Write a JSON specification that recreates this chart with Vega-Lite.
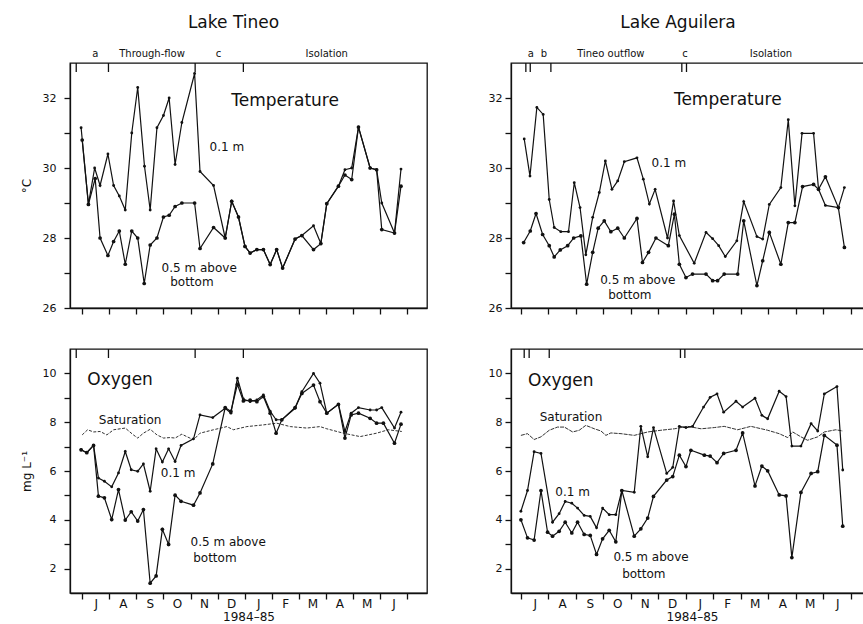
{
"$schema":"https://vega.github.io/schema/vega-lite/v6.json",
"padding":{"left":19,"top":12,"right":0,"bottom":0},
"background":"white",
"columns":2,
"spacing":{"row":32,"column":59},
"config":{
 "view":{"stroke":"#111","strokeWidth":1.3},
 "axis":{"domainColor":"#111","domainWidth":1.3,"tickColor":"#111","tickWidth":1.3,"labelColor":"#111","titleColor":"#111","labelFont":"DejaVu Sans","titleFont":"DejaVu Sans","labelFontSize":11,"titleFontSize":12,"titleFontWeight":"normal","grid":false,"labelFlush":false},
 "text":{"font":"DejaVu Sans","color":"#111"},
 "title":{"font":"DejaVu Sans","fontSize":17,"fontWeight":"normal","color":"#111"}
},
"datasets":{
"tt":[
{"m":-0.04,"v":31.15,"s":"0.1 m"},{"m":0.23,"v":28.96,"s":"0.1 m"},{"m":0.46,"v":30.0,"s":"0.1 m"},{"m":0.66,"v":29.5,"s":"0.1 m"},{"m":0.95,"v":30.4,"s":"0.1 m"},{"m":1.16,"v":29.5,"s":"0.1 m"},{"m":1.37,"v":29.2,"s":"0.1 m"},{"m":1.59,"v":28.8,"s":"0.1 m"},{"m":1.83,"v":31.0,"s":"0.1 m"},{"m":2.05,"v":32.3,"s":"0.1 m"},{"m":2.30,"v":30.05,"s":"0.1 m"},{"m":2.51,"v":28.8,"s":"0.1 m"},{"m":2.76,"v":31.15,"s":"0.1 m"},{"m":3.00,"v":31.5,"s":"0.1 m"},{"m":3.21,"v":32.0,"s":"0.1 m"},{"m":3.43,"v":30.1,"s":"0.1 m"},{"m":3.68,"v":31.3,"s":"0.1 m"},{"m":4.15,"v":32.7,"s":"0.1 m"},{"m":4.35,"v":29.9,"s":"0.1 m"},{"m":4.85,"v":29.5,"s":"0.1 m"},{"m":5.28,"v":28.0,"s":"0.1 m"},{"m":5.52,"v":29.05,"s":"0.1 m"},{"m":5.77,"v":28.6,"s":"0.1 m"},{"m":6.01,"v":27.76,"s":"0.1 m"},{"m":6.20,"v":27.57,"s":"0.1 m"},{"m":6.45,"v":27.67,"s":"0.1 m"},{"m":6.69,"v":27.67,"s":"0.1 m"},{"m":6.94,"v":27.24,"s":"0.1 m"},{"m":7.18,"v":27.67,"s":"0.1 m"},{"m":7.40,"v":27.14,"s":"0.1 m"},{"m":7.86,"v":27.97,"s":"0.1 m"},{"m":8.11,"v":28.07,"s":"0.1 m"},{"m":8.54,"v":28.35,"s":"0.1 m"},{"m":8.81,"v":27.84,"s":"0.1 m"},{"m":9.03,"v":28.98,"s":"0.1 m"},{"m":9.46,"v":29.48,"s":"0.1 m"},{"m":9.70,"v":29.95,"s":"0.1 m"},{"m":9.95,"v":30.0,"s":"0.1 m"},{"m":10.20,"v":31.17,"s":"0.1 m"},{"m":10.63,"v":30.0,"s":"0.1 m"},{"m":10.87,"v":29.95,"s":"0.1 m"},{"m":11.06,"v":29.0,"s":"0.1 m"},{"m":11.53,"v":28.14,"s":"0.1 m"},{"m":11.77,"v":29.97,"s":"0.1 m"},
{"m":0.0,"v":30.8,"s":"0.5 m"},{"m":0.23,"v":28.96,"s":"0.5 m"},{"m":0.48,"v":29.7,"s":"0.5 m"},{"m":0.66,"v":28.0,"s":"0.5 m"},{"m":0.95,"v":27.5,"s":"0.5 m"},{"m":1.16,"v":27.9,"s":"0.5 m"},{"m":1.37,"v":28.2,"s":"0.5 m"},{"m":1.59,"v":27.25,"s":"0.5 m"},{"m":1.83,"v":28.2,"s":"0.5 m"},{"m":2.05,"v":28.0,"s":"0.5 m"},{"m":2.29,"v":26.7,"s":"0.5 m"},{"m":2.51,"v":27.8,"s":"0.5 m"},{"m":2.76,"v":28.0,"s":"0.5 m"},{"m":3.00,"v":28.6,"s":"0.5 m"},{"m":3.21,"v":28.65,"s":"0.5 m"},{"m":3.43,"v":28.9,"s":"0.5 m"},{"m":3.68,"v":29.0,"s":"0.5 m"},{"m":4.15,"v":29.0,"s":"0.5 m"},{"m":4.35,"v":27.7,"s":"0.5 m"},{"m":4.85,"v":28.3,"s":"0.5 m"},{"m":5.28,"v":28.0,"s":"0.5 m"},{"m":5.52,"v":29.05,"s":"0.5 m"},{"m":5.77,"v":28.6,"s":"0.5 m"},{"m":6.01,"v":27.76,"s":"0.5 m"},{"m":6.20,"v":27.57,"s":"0.5 m"},{"m":6.45,"v":27.67,"s":"0.5 m"},{"m":6.69,"v":27.67,"s":"0.5 m"},{"m":6.94,"v":27.24,"s":"0.5 m"},{"m":7.18,"v":27.67,"s":"0.5 m"},{"m":7.40,"v":27.14,"s":"0.5 m"},{"m":7.86,"v":27.97,"s":"0.5 m"},{"m":8.11,"v":28.07,"s":"0.5 m"},{"m":8.54,"v":27.67,"s":"0.5 m"},{"m":8.81,"v":27.84,"s":"0.5 m"},{"m":9.03,"v":28.98,"s":"0.5 m"},{"m":9.46,"v":29.48,"s":"0.5 m"},{"m":9.70,"v":29.8,"s":"0.5 m"},{"m":9.95,"v":29.67,"s":"0.5 m"},{"m":10.20,"v":31.17,"s":"0.5 m"},{"m":10.63,"v":30.0,"s":"0.5 m"},{"m":10.87,"v":29.95,"s":"0.5 m"},{"m":11.06,"v":28.24,"s":"0.5 m"},{"m":11.53,"v":28.14,"s":"0.5 m"},{"m":11.77,"v":29.48,"s":"0.5 m"}
],
"at":[
{"m":0.12,"v":30.83,"s":"0.1 m"},{"m":0.33,"v":29.77,"s":"0.1 m"},{"m":0.58,"v":31.73,"s":"0.1 m"},{"m":0.81,"v":31.53,"s":"0.1 m"},{"m":1.03,"v":29.1,"s":"0.1 m"},{"m":1.21,"v":28.3,"s":"0.1 m"},{"m":1.45,"v":28.18,"s":"0.1 m"},{"m":1.73,"v":28.18,"s":"0.1 m"},{"m":1.94,"v":29.58,"s":"0.1 m"},{"m":2.15,"v":28.87,"s":"0.1 m"},{"m":2.36,"v":27.52,"s":"0.1 m"},{"m":2.61,"v":28.59,"s":"0.1 m"},{"m":2.85,"v":29.3,"s":"0.1 m"},{"m":3.07,"v":30.2,"s":"0.1 m"},{"m":3.31,"v":29.39,"s":"0.1 m"},{"m":3.52,"v":29.63,"s":"0.1 m"},{"m":3.76,"v":30.18,"s":"0.1 m"},{"m":4.22,"v":30.29,"s":"0.1 m"},{"m":4.45,"v":29.68,"s":"0.1 m"},{"m":4.67,"v":28.97,"s":"0.1 m"},{"m":4.88,"v":29.39,"s":"0.1 m"},{"m":5.33,"v":28.0,"s":"0.1 m"},{"m":5.55,"v":29.06,"s":"0.1 m"},{"m":5.76,"v":28.07,"s":"0.1 m"},{"m":6.30,"v":27.28,"s":"0.1 m"},{"m":6.73,"v":28.16,"s":"0.1 m"},{"m":6.97,"v":27.98,"s":"0.1 m"},{"m":7.19,"v":27.78,"s":"0.1 m"},{"m":7.43,"v":27.47,"s":"0.1 m"},{"m":7.85,"v":27.92,"s":"0.1 m"},{"m":8.10,"v":29.04,"s":"0.1 m"},{"m":8.58,"v":28.04,"s":"0.1 m"},{"m":8.79,"v":27.97,"s":"0.1 m"},{"m":9.03,"v":28.96,"s":"0.1 m"},{"m":9.45,"v":29.44,"s":"0.1 m"},{"m":9.72,"v":31.38,"s":"0.1 m"},{"m":9.96,"v":28.92,"s":"0.1 m"},{"m":10.22,"v":30.99,"s":"0.1 m"},{"m":10.64,"v":30.99,"s":"0.1 m"},{"m":10.82,"v":29.39,"s":"0.1 m"},{"m":11.07,"v":28.93,"s":"0.1 m"},{"m":11.54,"v":28.87,"s":"0.1 m"},{"m":11.76,"v":29.44,"s":"0.1 m"},
{"m":0.10,"v":27.87,"s":"0.5 m"},{"m":0.34,"v":28.2,"s":"0.5 m"},{"m":0.55,"v":28.7,"s":"0.5 m"},{"m":0.79,"v":28.1,"s":"0.5 m"},{"m":1.03,"v":27.78,"s":"0.5 m"},{"m":1.21,"v":27.46,"s":"0.5 m"},{"m":1.43,"v":27.66,"s":"0.5 m"},{"m":1.70,"v":27.78,"s":"0.5 m"},{"m":1.92,"v":28.0,"s":"0.5 m"},{"m":2.18,"v":28.06,"s":"0.5 m"},{"m":2.39,"v":26.68,"s":"0.5 m"},{"m":2.61,"v":27.59,"s":"0.5 m"},{"m":2.81,"v":28.28,"s":"0.5 m"},{"m":3.03,"v":28.49,"s":"0.5 m"},{"m":3.27,"v":28.18,"s":"0.5 m"},{"m":3.52,"v":28.28,"s":"0.5 m"},{"m":3.76,"v":28.0,"s":"0.5 m"},{"m":4.22,"v":28.56,"s":"0.5 m"},{"m":4.42,"v":27.3,"s":"0.5 m"},{"m":4.64,"v":27.59,"s":"0.5 m"},{"m":4.91,"v":28.0,"s":"0.5 m"},{"m":5.36,"v":27.78,"s":"0.5 m"},{"m":5.58,"v":28.68,"s":"0.5 m"},{"m":5.76,"v":27.25,"s":"0.5 m"},{"m":6.00,"v":26.87,"s":"0.5 m"},{"m":6.24,"v":26.97,"s":"0.5 m"},{"m":6.73,"v":26.97,"s":"0.5 m"},{"m":6.97,"v":26.78,"s":"0.5 m"},{"m":7.15,"v":26.78,"s":"0.5 m"},{"m":7.39,"v":26.97,"s":"0.5 m"},{"m":7.88,"v":26.97,"s":"0.5 m"},{"m":8.10,"v":28.49,"s":"0.5 m"},{"m":8.58,"v":26.64,"s":"0.5 m"},{"m":8.79,"v":27.35,"s":"0.5 m"},{"m":9.03,"v":28.16,"s":"0.5 m"},{"m":9.45,"v":27.25,"s":"0.5 m"},{"m":9.72,"v":28.44,"s":"0.5 m"},{"m":9.96,"v":28.44,"s":"0.5 m"},{"m":10.24,"v":29.47,"s":"0.5 m"},{"m":10.64,"v":29.53,"s":"0.5 m"},{"m":10.82,"v":29.39,"s":"0.5 m"},{"m":11.07,"v":29.75,"s":"0.5 m"},{"m":11.54,"v":28.87,"s":"0.5 m"},{"m":11.76,"v":27.73,"s":"0.5 m"}
],
"to":[
{"m":-0.04,"v":6.87,"s":"0.1 m"},{"m":0.17,"v":6.75,"s":"0.1 m"},{"m":0.42,"v":7.05,"s":"0.1 m"},{"m":0.60,"v":5.71,"s":"0.1 m"},{"m":0.82,"v":5.58,"s":"0.1 m"},{"m":1.09,"v":5.35,"s":"0.1 m"},{"m":1.34,"v":5.92,"s":"0.1 m"},{"m":1.59,"v":6.8,"s":"0.1 m"},{"m":1.81,"v":6.05,"s":"0.1 m"},{"m":2.05,"v":5.99,"s":"0.1 m"},{"m":2.26,"v":6.29,"s":"0.1 m"},{"m":2.51,"v":5.17,"s":"0.1 m"},{"m":2.73,"v":6.91,"s":"0.1 m"},{"m":2.96,"v":6.37,"s":"0.1 m"},{"m":3.19,"v":6.91,"s":"0.1 m"},{"m":3.43,"v":6.39,"s":"0.1 m"},{"m":3.65,"v":7.05,"s":"0.1 m"},{"m":4.11,"v":7.32,"s":"0.1 m"},{"m":4.35,"v":8.3,"s":"0.1 m"},{"m":4.82,"v":8.19,"s":"0.1 m"},{"m":5.28,"v":8.57,"s":"0.1 m"},{"m":5.49,"v":8.37,"s":"0.1 m"},{"m":5.73,"v":9.8,"s":"0.1 m"},{"m":5.95,"v":8.95,"s":"0.1 m"},{"m":6.20,"v":8.84,"s":"0.1 m"},{"m":6.45,"v":8.91,"s":"0.1 m"},{"m":6.69,"v":9.12,"s":"0.1 m"},{"m":6.94,"v":8.45,"s":"0.1 m"},{"m":7.16,"v":8.1,"s":"0.1 m"},{"m":7.37,"v":8.1,"s":"0.1 m"},{"m":7.86,"v":8.57,"s":"0.1 m"},{"m":8.11,"v":9.25,"s":"0.1 m"},{"m":8.54,"v":10.0,"s":"0.1 m"},{"m":8.78,"v":9.6,"s":"0.1 m"},{"m":9.03,"v":8.37,"s":"0.1 m"},{"m":9.46,"v":8.73,"s":"0.1 m"},{"m":9.70,"v":7.62,"s":"0.1 m"},{"m":9.93,"v":8.37,"s":"0.1 m"},{"m":10.20,"v":8.6,"s":"0.1 m"},{"m":10.63,"v":8.5,"s":"0.1 m"},{"m":10.87,"v":8.5,"s":"0.1 m"},{"m":11.06,"v":8.6,"s":"0.1 m"},{"m":11.53,"v":7.76,"s":"0.1 m"},{"m":11.77,"v":8.41,"s":"0.1 m"},
{"m":-0.04,"v":6.87,"s":"0.5 m"},{"m":0.17,"v":6.75,"s":"0.5 m"},{"m":0.42,"v":7.05,"s":"0.5 m"},{"m":0.60,"v":4.97,"s":"0.5 m"},{"m":0.82,"v":4.9,"s":"0.5 m"},{"m":1.09,"v":4.01,"s":"0.5 m"},{"m":1.34,"v":5.24,"s":"0.5 m"},{"m":1.59,"v":3.99,"s":"0.5 m"},{"m":1.81,"v":4.33,"s":"0.5 m"},{"m":2.05,"v":3.95,"s":"0.5 m"},{"m":2.26,"v":4.42,"s":"0.5 m"},{"m":2.51,"v":1.4,"s":"0.5 m"},{"m":2.73,"v":1.7,"s":"0.5 m"},{"m":2.96,"v":3.61,"s":"0.5 m"},{"m":3.19,"v":2.99,"s":"0.5 m"},{"m":3.43,"v":5.01,"s":"0.5 m"},{"m":3.65,"v":4.76,"s":"0.5 m"},{"m":4.11,"v":4.6,"s":"0.5 m"},{"m":4.35,"v":5.1,"s":"0.5 m"},{"m":4.82,"v":6.29,"s":"0.5 m"},{"m":5.28,"v":8.6,"s":"0.5 m"},{"m":5.49,"v":8.44,"s":"0.5 m"},{"m":5.73,"v":9.55,"s":"0.5 m"},{"m":5.95,"v":8.87,"s":"0.5 m"},{"m":6.20,"v":8.91,"s":"0.5 m"},{"m":6.45,"v":8.84,"s":"0.5 m"},{"m":6.69,"v":9.05,"s":"0.5 m"},{"m":6.94,"v":8.37,"s":"0.5 m"},{"m":7.16,"v":7.55,"s":"0.5 m"},{"m":7.37,"v":8.1,"s":"0.5 m"},{"m":7.86,"v":8.6,"s":"0.5 m"},{"m":8.11,"v":9.18,"s":"0.5 m"},{"m":8.54,"v":9.52,"s":"0.5 m"},{"m":8.78,"v":8.84,"s":"0.5 m"},{"m":9.03,"v":8.37,"s":"0.5 m"},{"m":9.46,"v":8.73,"s":"0.5 m"},{"m":9.70,"v":7.35,"s":"0.5 m"},{"m":9.93,"v":8.3,"s":"0.5 m"},{"m":10.20,"v":8.37,"s":"0.5 m"},{"m":10.63,"v":8.16,"s":"0.5 m"},{"m":10.87,"v":7.96,"s":"0.5 m"},{"m":11.12,"v":7.96,"s":"0.5 m"},{"m":11.53,"v":7.14,"s":"0.5 m"},{"m":11.77,"v":7.92,"s":"0.5 m"}
],
"ts":[
{"m":0.0,"v":7.48},{"m":0.2,"v":7.69},{"m":0.42,"v":7.6},{"m":0.66,"v":7.62},{"m":0.91,"v":7.48},{"m":1.16,"v":7.69},{"m":1.59,"v":7.76},{"m":1.89,"v":7.48},{"m":2.05,"v":7.35},{"m":2.26,"v":7.55},{"m":2.51,"v":7.71},{"m":2.76,"v":7.48},{"m":3.0,"v":7.35},{"m":3.25,"v":7.37},{"m":3.43,"v":7.35},{"m":3.68,"v":7.51},{"m":3.86,"v":7.41},{"m":4.11,"v":7.28},{"m":4.35,"v":7.55},{"m":4.85,"v":7.69},{"m":5.34,"v":7.82},{"m":5.58,"v":7.69},{"m":6.08,"v":7.82},{"m":6.69,"v":7.89},{"m":7.18,"v":7.96},{"m":7.68,"v":7.82},{"m":8.29,"v":7.76},{"m":8.78,"v":7.82},{"m":9.03,"v":7.73},{"m":9.64,"v":7.55},{"m":10.26,"v":7.41},{"m":10.87,"v":7.55},{"m":11.3,"v":7.69},{"m":11.8,"v":7.62}
],
"ao":[
{"m":0.0,"v":4.35,"s":"0.1 m"},{"m":0.24,"v":5.2,"s":"0.1 m"},{"m":0.48,"v":6.79,"s":"0.1 m"},{"m":0.73,"v":6.72,"s":"0.1 m"},{"m":1.15,"v":3.9,"s":"0.1 m"},{"m":1.39,"v":4.25,"s":"0.1 m"},{"m":1.61,"v":4.75,"s":"0.1 m"},{"m":1.85,"v":4.68,"s":"0.1 m"},{"m":2.06,"v":4.48,"s":"0.1 m"},{"m":2.30,"v":4.18,"s":"0.1 m"},{"m":2.52,"v":4.14,"s":"0.1 m"},{"m":2.75,"v":3.67,"s":"0.1 m"},{"m":2.97,"v":4.48,"s":"0.1 m"},{"m":3.21,"v":4.21,"s":"0.1 m"},{"m":3.45,"v":4.21,"s":"0.1 m"},{"m":3.67,"v":5.2,"s":"0.1 m"},{"m":4.12,"v":5.13,"s":"0.1 m"},{"m":4.36,"v":7.83,"s":"0.1 m"},{"m":4.61,"v":6.58,"s":"0.1 m"},{"m":4.82,"v":7.78,"s":"0.1 m"},{"m":5.30,"v":5.9,"s":"0.1 m"},{"m":5.52,"v":6.15,"s":"0.1 m"},{"m":5.76,"v":7.83,"s":"0.1 m"},{"m":6.0,"v":7.78,"s":"0.1 m"},{"m":6.24,"v":7.83,"s":"0.1 m"},{"m":6.64,"v":8.62,"s":"0.1 m"},{"m":6.88,"v":9.02,"s":"0.1 m"},{"m":7.13,"v":9.16,"s":"0.1 m"},{"m":7.37,"v":8.41,"s":"0.1 m"},{"m":7.82,"v":8.86,"s":"0.1 m"},{"m":8.06,"v":8.62,"s":"0.1 m"},{"m":8.51,"v":8.98,"s":"0.1 m"},{"m":8.76,"v":8.28,"s":"0.1 m"},{"m":8.97,"v":8.14,"s":"0.1 m"},{"m":9.39,"v":9.27,"s":"0.1 m"},{"m":9.64,"v":9.05,"s":"0.1 m"},{"m":9.85,"v":7.02,"s":"0.1 m"},{"m":10.18,"v":7.02,"s":"0.1 m"},{"m":10.55,"v":7.94,"s":"0.1 m"},{"m":10.79,"v":7.64,"s":"0.1 m"},{"m":11.03,"v":9.16,"s":"0.1 m"},{"m":11.49,"v":9.46,"s":"0.1 m"},{"m":11.70,"v":6.04,"s":"0.1 m"},
{"m":0.0,"v":4.0,"s":"0.5 m"},{"m":0.24,"v":3.26,"s":"0.5 m"},{"m":0.48,"v":3.17,"s":"0.5 m"},{"m":0.73,"v":5.2,"s":"0.5 m"},{"m":0.97,"v":3.49,"s":"0.5 m"},{"m":1.15,"v":3.33,"s":"0.5 m"},{"m":1.39,"v":3.53,"s":"0.5 m"},{"m":1.61,"v":3.9,"s":"0.5 m"},{"m":1.85,"v":3.46,"s":"0.5 m"},{"m":2.06,"v":3.9,"s":"0.5 m"},{"m":2.30,"v":3.4,"s":"0.5 m"},{"m":2.52,"v":3.36,"s":"0.5 m"},{"m":2.75,"v":2.58,"s":"0.5 m"},{"m":2.97,"v":3.22,"s":"0.5 m"},{"m":3.21,"v":3.57,"s":"0.5 m"},{"m":3.45,"v":3.1,"s":"0.5 m"},{"m":3.67,"v":5.2,"s":"0.5 m"},{"m":4.12,"v":3.33,"s":"0.5 m"},{"m":4.36,"v":3.63,"s":"0.5 m"},{"m":4.61,"v":4.07,"s":"0.5 m"},{"m":4.82,"v":4.96,"s":"0.5 m"},{"m":5.30,"v":5.63,"s":"0.5 m"},{"m":5.52,"v":5.77,"s":"0.5 m"},{"m":5.76,"v":6.65,"s":"0.5 m"},{"m":6.0,"v":6.18,"s":"0.5 m"},{"m":6.18,"v":6.85,"s":"0.5 m"},{"m":6.67,"v":6.65,"s":"0.5 m"},{"m":6.88,"v":6.61,"s":"0.5 m"},{"m":7.13,"v":6.34,"s":"0.5 m"},{"m":7.37,"v":6.72,"s":"0.5 m"},{"m":7.82,"v":6.85,"s":"0.5 m"},{"m":8.06,"v":7.56,"s":"0.5 m"},{"m":8.51,"v":5.39,"s":"0.5 m"},{"m":8.76,"v":6.2,"s":"0.5 m"},{"m":8.97,"v":6.01,"s":"0.5 m"},{"m":9.39,"v":5.02,"s":"0.5 m"},{"m":9.64,"v":4.98,"s":"0.5 m"},{"m":9.85,"v":2.45,"s":"0.5 m"},{"m":10.18,"v":5.12,"s":"0.5 m"},{"m":10.55,"v":5.9,"s":"0.5 m"},{"m":10.79,"v":5.97,"s":"0.5 m"},{"m":11.03,"v":7.46,"s":"0.5 m"},{"m":11.49,"v":7.06,"s":"0.5 m"},{"m":11.70,"v":3.74,"s":"0.5 m"}
],
"as":[
{"m":0.0,"v":7.46},{"m":0.24,"v":7.53},{"m":0.48,"v":7.29},{"m":0.73,"v":7.4},{"m":1.03,"v":7.67},{"m":1.33,"v":7.8},{"m":1.58,"v":7.8},{"m":1.88,"v":7.6},{"m":2.12,"v":7.67},{"m":2.36,"v":7.87},{"m":2.67,"v":7.73},{"m":2.91,"v":7.64},{"m":3.09,"v":7.46},{"m":3.27,"v":7.56},{"m":3.64,"v":7.53},{"m":4.12,"v":7.46},{"m":4.61,"v":7.6},{"m":5.09,"v":7.67},{"m":5.58,"v":7.73},{"m":6.06,"v":7.83},{"m":6.55,"v":7.73},{"m":7.03,"v":7.78},{"m":7.39,"v":7.83},{"m":7.88,"v":7.69},{"m":8.36,"v":7.83},{"m":8.97,"v":7.67},{"m":9.39,"v":7.53},{"m":9.7,"v":7.37},{"m":9.88,"v":7.6},{"m":10.18,"v":7.4},{"m":10.42,"v":7.26},{"m":10.79,"v":7.4},{"m":11.03,"v":7.6},{"m":11.45,"v":7.69},{"m":11.7,"v":7.64}
]
},
"concat":[
{
 "width":357,"height":245,
 "title":{"text":"Lake Tineo","frame":"group","dx":-15,"offset":17},
 "encoding":{
  "x":{"field":"m","type":"quantitative","scale":{"domain":[-0.45,12.73],"nice":false,"zero":false},"axis":{"values":[0,1,2,3,4,5,6,7,8,9,10,11,12],"labels":false,"title":null,"tickSize":6}},
  "y":{"field":"v","type":"quantitative","scale":{"domain":[26,33],"nice":false,"zero":false},"axis":{"values":[26,27,28,29,30,31,32],"labelExpr":"datum.value % 2 == 0 ? datum.label : ''","title":"°C","tickSize":6,"labelPadding":8,"titlePadding":9}}
 },
 "layer":[
  {"data":{"name":"tt"},"mark":{"type":"line","strokeWidth":1.2,"color":"#111"},"encoding":{"detail":{"field":"s"}}},
  {"data":{"name":"tt"},"mark":{"type":"point","filled":true,"opacity":1,"color":"#111"},"encoding":{"size":{"field":"s","type":"nominal","scale":{"domain":["0.1 m","0.5 m"],"range":[8,14]},"legend":null}}},
  {"data":{"values":[{"m":7.49,"v":31.91,"t":"Temperature"}]},"mark":{"type":"text","fontSize":17},"encoding":{"text":{"field":"t"}}},
  {"data":{"values":[{"m":5.34,"v":30.6,"t":"0.1 m"},{"m":4.32,"v":27.14,"t":"0.5 m above"},{"m":4.05,"v":26.74,"t":"bottom"}]},"mark":{"type":"text","fontSize":12},"encoding":{"text":{"field":"t"}}},
  {"data":{"values":[{"m":0.48,"v":33.26,"t":"a"},{"m":2.58,"v":33.26,"t":"Through-flow"},{"m":5.03,"v":33.26,"t":"c"},{"m":9.03,"v":33.26,"t":"Isolation"}]},"mark":{"type":"text","fontSize":10},"encoding":{"text":{"field":"t"}}},
  {"data":{"values":[{"m":-0.22,"v":33},{"m":0.97,"v":33},{"m":4.17,"v":33},{"m":5.95,"v":33}]},"mark":{"type":"tick","orient":"vertical","size":9,"thickness":1.3,"yOffset":4.5,"color":"#111","opacity":1}}
 ]
},
{
 "width":362,"height":245,
 "title":{"text":"Lake Aguilera","frame":"group","dx":-14,"offset":17},
 "encoding":{
  "x":{"field":"m","type":"quantitative","scale":{"domain":[-0.36,12.8],"nice":false,"zero":false},"axis":{"values":[0,1,2,3,4,5,6,7,8,9,10,11,12],"labels":false,"title":null,"tickSize":6}},
  "y":{"field":"v","type":"quantitative","scale":{"domain":[26,33],"nice":false,"zero":false},"axis":{"values":[26,27,28,29,30,31,32],"labelExpr":"datum.value % 2 == 0 ? datum.label : ''","title":null,"tickSize":6,"labelPadding":3}}
 },
 "layer":[
  {"data":{"name":"at"},"mark":{"type":"line","strokeWidth":1.2,"color":"#111"},"encoding":{"detail":{"field":"s"}}},
  {"data":{"name":"at"},"mark":{"type":"point","filled":true,"opacity":1,"color":"#111"},"encoding":{"size":{"field":"s","type":"nominal","scale":{"domain":["0.1 m","0.5 m"],"range":[8,14]},"legend":null}}},
  {"data":{"values":[{"m":7.52,"v":31.94,"t":"Temperature"}]},"mark":{"type":"text","fontSize":17},"encoding":{"text":{"field":"t"}}},
  {"data":{"values":[{"m":5.38,"v":30.15,"t":"0.1 m"},{"m":4.25,"v":26.8,"t":"0.5 m above"},{"m":3.96,"v":26.36,"t":"bottom"}]},"mark":{"type":"text","fontSize":12},"encoding":{"text":{"field":"t"}}},
  {"data":{"values":[{"m":0.36,"v":33.27,"t":"a"},{"m":0.84,"v":33.27,"t":"b"},{"m":3.27,"v":33.27,"t":"Tineo outflow"},{"m":5.97,"v":33.27,"t":"c"},{"m":9.09,"v":33.27,"t":"Isolation"}]},"mark":{"type":"text","fontSize":10},"encoding":{"text":{"field":"t"}}},
  {"data":{"values":[{"m":0.18,"v":33},{"m":0.34,"v":33},{"m":1.09,"v":33},{"m":5.85,"v":33},{"m":6.02,"v":33}]},"mark":{"type":"tick","orient":"vertical","size":9,"thickness":1.3,"yOffset":4.5,"color":"#111","opacity":1}}
 ]
},
{
 "width":357,"height":244,
 "encoding":{
  "x":{"field":"m","type":"quantitative","scale":{"domain":[-0.45,12.73],"nice":false,"zero":false},"axis":{"values":[0,1,2,3,4,5,6,7,8,9,10,11,12],"labelExpr":"['J','A','S','O','N','D','J','F','M','A','M','J',''][datum.value]","labelOffset":13.5,"labelPadding":-1,"title":"1984–85","titlePadding":2,"tickSize":6,"labelFontSize":12}},
  "y":{"field":"v","type":"quantitative","scale":{"domain":[1,11],"nice":false,"zero":false},"axis":{"values":[2,3,4,5,6,7,8,9,10],"labelExpr":"datum.value % 2 == 0 ? datum.label : ''","title":"mg L⁻¹","tickSize":6,"labelPadding":8,"titlePadding":9}}
 },
 "layer":[
  {"data":{"name":"ts"},"mark":{"type":"line","strokeWidth":1,"color":"#333","strokeDash":[3,1.5]}},
  {"data":{"name":"to"},"mark":{"type":"line","strokeWidth":1.2,"color":"#111"},"encoding":{"detail":{"field":"s"}}},
  {"data":{"name":"to"},"mark":{"type":"point","filled":true,"opacity":1,"color":"#111"},"encoding":{"size":{"field":"s","type":"nominal","scale":{"domain":["0.1 m","0.5 m"],"range":[8,14]},"legend":null}}},
  {"data":{"values":[{"m":1.4,"v":9.74,"t":"Oxygen"}]},"mark":{"type":"text","fontSize":17},"encoding":{"text":{"field":"t"}}},
  {"data":{"values":[{"m":1.77,"v":8.07,"t":"Saturation"},{"m":3.54,"v":5.9,"t":"0.1 m"},{"m":5.39,"v":3.1,"t":"0.5 m above"},{"m":4.9,"v":2.44,"t":"bottom"}]},"mark":{"type":"text","fontSize":12},"encoding":{"text":{"field":"t"}}},
  {"data":{"values":[{"m":-0.22,"v":11},{"m":0.97,"v":11},{"m":4.17,"v":11},{"m":5.95,"v":11}]},"mark":{"type":"tick","orient":"vertical","size":9,"thickness":1.3,"yOffset":4.5,"color":"#111","opacity":1}}
 ]
},
{
 "width":362,"height":244,
 "encoding":{
  "x":{"field":"m","type":"quantitative","scale":{"domain":[-0.36,12.8],"nice":false,"zero":false},"axis":{"values":[0,1,2,3,4,5,6,7,8,9,10,11,12],"labelExpr":"['J','A','S','O','N','D','J','F','M','A','M','J',''][datum.value]","labelOffset":13.8,"labelPadding":-1,"title":"1984–85","titlePadding":2,"tickSize":6,"labelFontSize":12}},
  "y":{"field":"v","type":"quantitative","scale":{"domain":[1,11],"nice":false,"zero":false},"axis":{"values":[2,3,4,5,6,7,8,9,10],"labelExpr":"datum.value % 2 == 0 ? datum.label : ''","title":null,"tickSize":6,"labelPadding":3}}
 },
 "layer":[
  {"data":{"name":"as"},"mark":{"type":"line","strokeWidth":1,"color":"#333","strokeDash":[4,1]}},
  {"data":{"name":"ao"},"mark":{"type":"line","strokeWidth":1.2,"color":"#111"},"encoding":{"detail":{"field":"s"}}},
  {"data":{"name":"ao"},"mark":{"type":"point","filled":true,"opacity":1,"color":"#111"},"encoding":{"size":{"field":"s","type":"nominal","scale":{"domain":["0.1 m","0.5 m"],"range":[8,14]},"legend":null}}},
  {"data":{"values":[{"m":1.45,"v":9.7,"t":"Oxygen"}]},"mark":{"type":"text","fontSize":17},"encoding":{"text":{"field":"t"}}},
  {"data":{"values":[{"m":1.82,"v":8.2,"t":"Saturation"},{"m":1.88,"v":5.15,"t":"0.1 m"},{"m":4.73,"v":2.46,"t":"0.5 m above"},{"m":4.47,"v":1.77,"t":"bottom"}]},"mark":{"type":"text","fontSize":12},"encoding":{"text":{"field":"t"}}},
  {"data":{"values":[{"m":0.12,"v":11},{"m":0.3,"v":11},{"m":1.03,"v":11},{"m":5.8,"v":11},{"m":5.96,"v":11}]},"mark":{"type":"tick","orient":"vertical","size":9,"thickness":1.3,"yOffset":4.5,"color":"#111","opacity":1}}
 ]
}
]
}
